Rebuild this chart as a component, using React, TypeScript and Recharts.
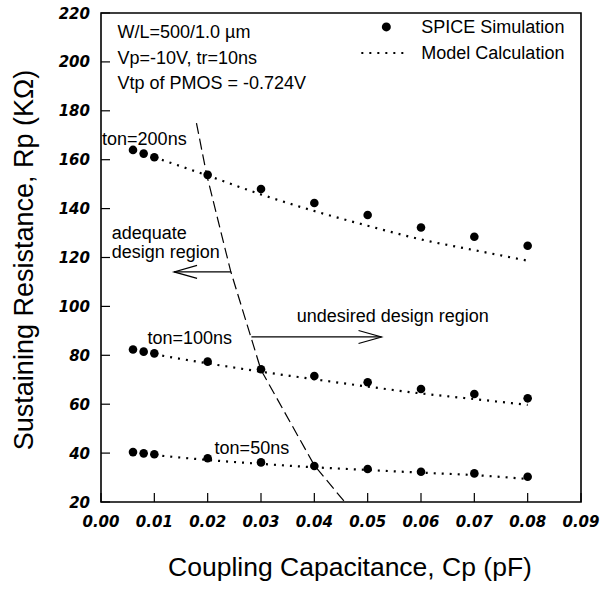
import React from 'react';
import {
  ComposedChart,
  Line,
  Scatter,
  XAxis,
  YAxis,
  ReferenceArea,
  ReferenceDot,
  ReferenceLine,
} from 'recharts';

// coupling capacitance (pF) of the SPICE points
const cpSpice = [0.006, 0.008, 0.01, 0.02, 0.03, 0.04, 0.05, 0.06, 0.07, 0.08];
const rp200Spice = [164, 162.5, 161, 153.8, 148, 142.3, 137.4, 132.3, 128.5, 124.8];
const rp100Spice = [82.4, 81.5, 80.8, 77.4, 74.3, 71.5, 69, 66.2, 64.2, 62.4];
const rp50Spice = [40.4, 39.9, 39.5, 37.9, 36.2, 34.7, 33.5, 32.4, 31.7, 30.3];

// model calculation curves
const cpModel = [0.01, 0.02, 0.03, 0.04, 0.05, 0.06, 0.07, 0.08];
const rp200Model = [161, 153.5, 145.8, 139, 133, 127.4, 123, 118.7];
const rp100Model = [80.4, 76.7, 73.3, 70.2, 67.2, 64.4, 62.1, 59.7];
const rp50Model = [39.2, 37.2, 35.6, 34.2, 33.1, 32, 31, 29.4];

// design boundary (dashed)
const boundaryCp = [0.0179, 0.0198, 0.0243, 0.03, 0.04, 0.0457];
const boundaryRp = [175, 154, 114.5, 74, 35, 20];

const xTicks = [0, 0.01, 0.02, 0.03, 0.04, 0.05, 0.06, 0.07, 0.08, 0.09];
const yTicks = [20, 40, 60, 80, 100, 120, 140, 160, 180, 200, 220];

const toPoints = (xs: number[], ys: number[]) => xs.map((x, i) => ({ x, y: ys[i] }));

const spiceData = [
  ...toPoints(cpSpice, rp200Spice),
  ...toPoints(cpSpice, rp100Spice),
  ...toPoints(cpSpice, rp50Spice),
];

const PLOT_LEFT = 101;
const PLOT_BOTTOM = 502;
const TEXT_FONT = '"Liberation Sans", Arial, Helvetica, sans-serif';
const TICK_FONT = '"DejaVu Sans", sans-serif';

const YTick = (props: any) => {
  const { y, payload } = props;
  return (
    <g>
      <line x1={PLOT_LEFT} x2={PLOT_LEFT + 9} y1={y} y2={y} stroke="#000" strokeWidth={1.2} />
      <text
        x={90}
        y={y + 5.5}
        textAnchor="end"
        fontFamily={TICK_FONT}
        fontSize={15}
        fontWeight="bold"
        fontStyle="italic"
        fill="#000"
      >
        {payload.value}
      </text>
    </g>
  );
};

const XTick = (props: any) => {
  const { x, payload } = props;
  return (
    <g>
      <line x1={x} x2={x} y1={PLOT_BOTTOM} y2={PLOT_BOTTOM - 9} stroke="#000" strokeWidth={1.2} />
      <text
        x={x}
        y={PLOT_BOTTOM + 25}
        textAnchor="middle"
        fontFamily={TICK_FONT}
        fontSize={15}
        fontWeight="bold"
        fontStyle="italic"
        fill="#000"
      >
        {payload.value.toFixed(2)}
      </text>
    </g>
  );
};

const Dot = (p: any) => <circle cx={p.cx} cy={p.cy} r={4.3} fill="#000" />;

const annotation = (lines: string[], lineGap = 25.5) => (p: any) => (
  <text x={p.cx} y={p.cy} fontFamily={TEXT_FONT} fontSize={18} fill="#000">
    {lines.map((t, i) => (
      <tspan key={i} x={p.cx} dy={i === 0 ? 0 : lineGap}>
        {t}
      </tspan>
    ))}
  </text>
);

const legendShape = (p: any) => (
  <g fontFamily={TEXT_FONT} fontSize={18} fill="#000">
    <circle cx={p.cx} cy={p.cy} r={4.5} fill="#000" />
    <text x={p.cx + 35} y={p.cy + 6.5}>SPICE Simulation</text>
    <line
      x1={p.cx - 25}
      x2={p.cx + 19}
      y1={p.cy + 26}
      y2={p.cy + 26}
      stroke="#000"
      strokeWidth={2}
      strokeDasharray="2 6"
    />
    <text x={p.cx + 35} y={p.cy + 32.5}>Model Calculation</text>
  </g>
);

const arrowShape = (p: any) => {
  const { x1, y1, x2, y2 } = p;
  const dir = Math.sign(x2 - x1);
  return (
    <g stroke="#000" strokeWidth={1.2} fill="none">
      <line x1={x1} y1={y1} x2={x2} y2={y2} />
      <polyline points={`${x2 - dir * 23},${y2 - 6.5} ${x2},${y2} ${x2 - dir * 23},${y2 + 6.5}`} />
    </g>
  );
};

const modelLine = (xs: number[], ys: number[], key: string) => (
  <Line
    key={key}
    data={toPoints(xs, ys)}
    dataKey="y"
    type="monotone"
    stroke="#000"
    strokeWidth={2.2}
    strokeDasharray="2 6"
    dot={false}
    activeDot={false}
    isAnimationActive={false}
  />
);

export default function App() {
  return (
    <div style={{ position: 'absolute', left: 0, top: 0, background: '#fff' }}>
      <ComposedChart width={603} height={589} margin={{ top: 13, right: 22, left: 0, bottom: 0 }}>
        <XAxis
          type="number"
          dataKey="x"
          domain={[0, 0.09]}
          ticks={xTicks}
          axisLine={false}
          tickLine={false}
          tick={<XTick />}
          height={87}
          allowDataOverflow
          label={{
            content: () => (
              <text x={350} y={576} textAnchor="middle" fontFamily={TEXT_FONT} fontSize={26.5} fill="#000">
                Coupling Capacitance, Cp (pF)
              </text>
            ),
          }}
        />
        <YAxis
          type="number"
          dataKey="y"
          domain={[20, 220]}
          ticks={yTicks}
          axisLine={false}
          tickLine={false}
          tick={<YTick />}
          width={101}
          allowDataOverflow
          label={{
            content: () => (
              <text
                x={33}
                y={260}
                textAnchor="middle"
                fontFamily={TEXT_FONT}
                fontSize={27}
                fill="#000"
                transform="rotate(-90 33 260)"
              >
                Sustaining Resistance, Rp (KΩ)
              </text>
            ),
          }}
        />
        <ReferenceArea x1={0} x2={0.09} y1={20} y2={220} fill="none" stroke="#000" strokeWidth={1.6} />

        {modelLine(cpModel, rp200Model, 'm200')}
        {modelLine(cpModel, rp100Model, 'm100')}
        {modelLine(cpModel, rp50Model, 'm50')}

        <Line
          data={toPoints(boundaryCp, boundaryRp)}
          dataKey="y"
          type="linear"
          stroke="#000"
          strokeWidth={1.2}
          strokeDasharray="11 5"
          dot={false}
          activeDot={false}
          isAnimationActive={false}
        />

        <Scatter data={spiceData} dataKey="y" shape={Dot} isAnimationActive={false} />

        <ReferenceLine segment={[{ x: 0.0244, y: 114.1 }, { x: 0.0137, y: 114.1 }]} shape={arrowShape} />
        <ReferenceLine segment={[{ x: 0.0282, y: 87.5 }, { x: 0.0526, y: 87.5 }]} shape={arrowShape} />

        <ReferenceDot
          x={0.0031}
          y={209.6}
          r={0}
          shape={annotation(['W/L=500/1.0 \u00b5m', 'Vp=-10V, tr=10ns', 'Vtp of PMOS = -0.724V'])}
        />
        <ReferenceDot x={0.0535} y={214.3} r={0} shape={legendShape} />
        <ReferenceDot x={0.0002} y={166} r={0} shape={annotation(['ton=200ns'])} />
        <ReferenceDot x={0.002} y={127.5} r={0} shape={annotation(['adequate', 'design region'], 18.5)} />
        <ReferenceDot x={0.0367} y={93.7} r={0} shape={annotation(['undesired design region'])} />
        <ReferenceDot x={0.0087} y={84.6} r={0} shape={annotation(['ton=100ns'])} />
        <ReferenceDot x={0.0213} y={39.6} r={0} shape={annotation(['ton=50ns'])} />
      </ComposedChart>
    </div>
  );
}
